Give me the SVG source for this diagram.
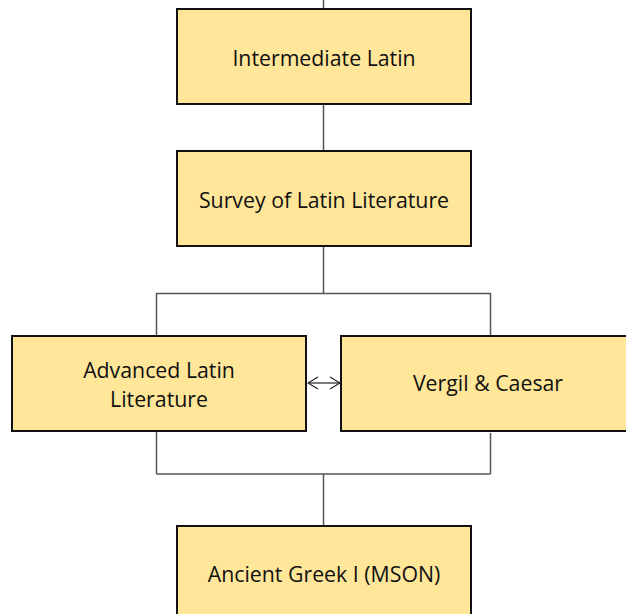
<svg xmlns="http://www.w3.org/2000/svg" width="626" height="614" viewBox="0 0 626 614">
<defs>
<style>
.box{fill:#FFE699;stroke:#111;stroke-width:2}
.t{font-family:"Open Sans","Noto Sans",sans-serif;font-size:21.3px;fill:#111;text-anchor:middle}
.c{stroke:#555;stroke-width:1.5;fill:none}
.a{stroke:#222;stroke-width:1.2;fill:none}
</style>
<marker id="ah" viewBox="0 0 12 14" refX="11" refY="7" markerWidth="12" markerHeight="14" markerUnits="userSpaceOnUse" orient="auto-start-reverse">
<path d="M1,1 L11,7 L1,13" fill="none" stroke="#222" stroke-width="1.2"/>
</marker>
</defs>
<rect width="626" height="614" fill="#fff"/>
<g id="connectors">
<path class="c" d="M323.5,0 V9 M323.5,104 V151 M323.5,246 V293.5 M156.5,293.5 H490.5 M156.5,293 V335 M490.5,293 V335 M156.5,431 V474 M490.5,433 V474 M156.5,474 H490.5 M323.5,474 V526"/>
<path class="a" d="M308,383 H340" marker-start="url(#ah)" marker-end="url(#ah)"/>
</g>
<g id="intermediate-latin">
<rect class="box" x="177" y="9" width="294" height="95"/>
<text class="t" x="324" y="66">Intermediate Latin</text>
</g>
<g id="survey-latin-literature">
<rect class="box" x="177" y="151" width="294" height="95"/>
<text class="t" x="324" y="208">Survey of Latin Literature</text>
</g>
<g id="advanced-latin-literature">
<rect class="box" x="12" y="336" width="294" height="95"/>
<text class="t" x="159" y="378">Advanced Latin</text>
<text class="t" x="159" y="407">Literature</text>
</g>
<g id="vergil-caesar">
<rect class="box" x="341" y="336" width="294" height="95"/>
<text class="t" x="488" y="391">Vergil &amp; Caesar</text>
</g>
<g id="ancient-greek-i">
<rect class="box" x="177" y="526" width="294" height="95"/>
<text class="t" x="324" y="582">Ancient Greek I (MSON)</text>
</g>
</svg>
